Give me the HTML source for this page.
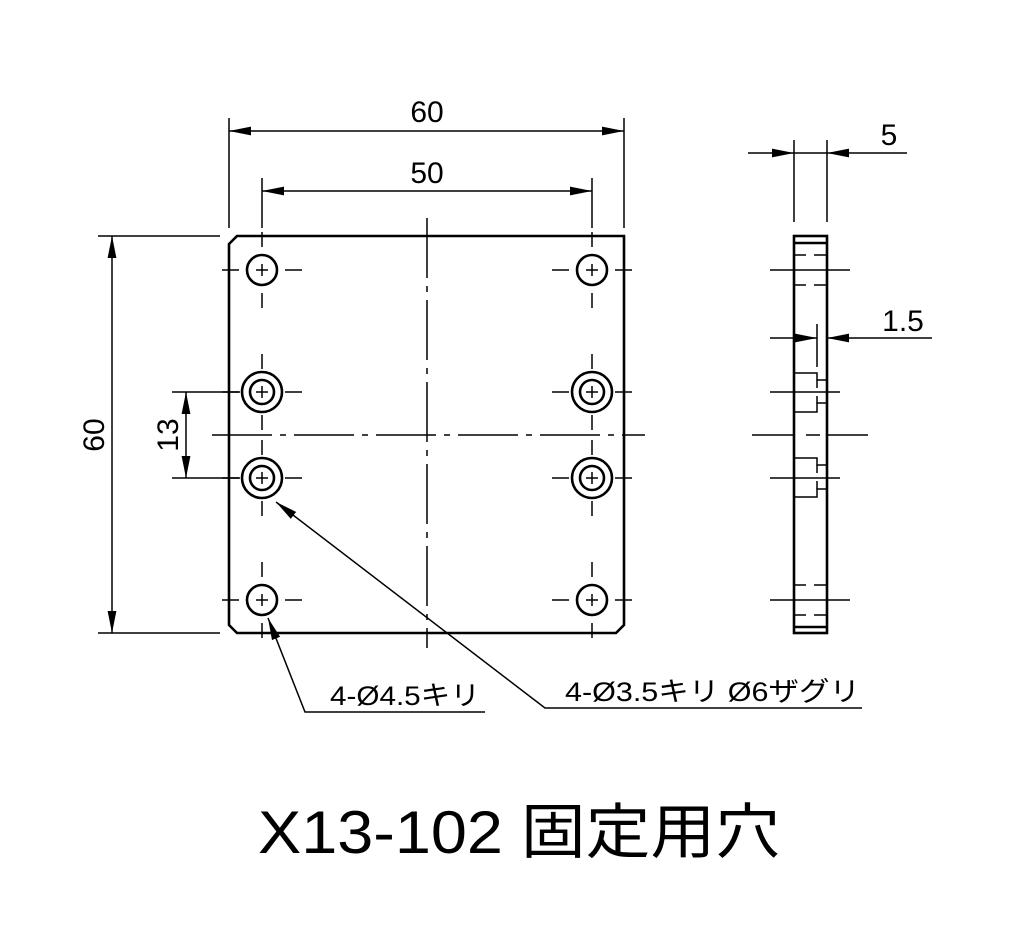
<!DOCTYPE html>
<html><head><meta charset="utf-8"><style>html,body{margin:0;background:#fff}svg{display:block}</style></head><body>
<svg width="1024" height="950" viewBox="0 0 1024 950" xmlns="http://www.w3.org/2000/svg">
<defs>
<marker id="a" viewBox="0 0 20 8" refX="20" refY="4" markerWidth="22" markerHeight="9" markerUnits="userSpaceOnUse" orient="auto"><path d="M0,0 L20,4 L0,8 Z" fill="#000"/></marker>
<marker id="b" viewBox="0 0 20 8" refX="0" refY="4" markerWidth="22" markerHeight="9" markerUnits="userSpaceOnUse" orient="auto"><path d="M20,0 L0,4 L20,8 Z" fill="#000"/></marker>
<g id="h1"><line x1="-40" y1="0" x2="-23" y2="0"/><line x1="23" y1="0" x2="40" y2="0"/><line x1="0" y1="-38" x2="0" y2="-23"/><line x1="0" y1="23" x2="0" y2="38"/><line x1="-6" y1="0" x2="6" y2="0"/><line x1="0" y1="-6" x2="0" y2="6"/></g>
</defs>
<g fill="none" stroke="#000" stroke-width="1.5">
<line x1="229" y1="118" x2="229" y2="228"/><line x1="624" y1="118" x2="624" y2="228"/>
<line x1="262" y1="178" x2="262" y2="228"/><line x1="592" y1="178" x2="592" y2="228"/>
<line x1="98" y1="236" x2="220" y2="236"/><line x1="98" y1="633" x2="220" y2="633"/>
<line x1="172" y1="392" x2="240" y2="392"/><line x1="172" y1="478" x2="240" y2="478"/>
<line x1="229" y1="131" x2="624" y2="131" marker-start="url(#b)" marker-end="url(#a)"/>
<line x1="262" y1="191" x2="592" y2="191" marker-start="url(#b)" marker-end="url(#a)"/>
<line x1="112" y1="236" x2="112" y2="633" marker-start="url(#b)" marker-end="url(#a)"/>
<line x1="186" y1="392" x2="186" y2="478" marker-start="url(#b)" marker-end="url(#a)"/>
<line x1="427" y1="218" x2="427" y2="648" stroke-dasharray="60,8,6,8"/>
<line x1="212" y1="435" x2="645" y2="435" stroke-dasharray="60,8,6,8"/>
<polyline points="268,618 305,712 485,712" marker-start="url(#b)"/>
<polyline points="276,502 545,708 862,708" marker-start="url(#b)"/>
<line x1="794" y1="140" x2="794" y2="222"/><line x1="827" y1="140" x2="827" y2="222"/>
<line x1="748" y1="153" x2="794" y2="153" marker-end="url(#a)"/>
<line x1="907" y1="153" x2="827" y2="153" marker-end="url(#a)"/>
<line x1="794" y1="153" x2="827" y2="153"/>
<line x1="770" y1="338" x2="817" y2="338" marker-end="url(#a)"/>
<line x1="932" y1="338" x2="827" y2="338" marker-end="url(#a)"/>
<line x1="817" y1="324" x2="817" y2="367"/>
<line x1="770" y1="270" x2="850" y2="270"/><line x1="770" y1="392" x2="840" y2="392"/>
<line x1="770" y1="478" x2="840" y2="478"/><line x1="770" y1="600" x2="850" y2="600"/>
<line x1="752" y1="435" x2="875" y2="435" stroke-dasharray="42,12,14,6,42"/>
<g stroke-dasharray="12,8"><line x1="794" y1="255" x2="827" y2="255"/><line x1="794" y1="285" x2="827" y2="285"/><line x1="794" y1="585" x2="827" y2="585"/><line x1="794" y1="615" x2="827" y2="615"/></g>
<polyline points="794,373 817,373 817,380 827,380"/><polyline points="794,412 817,412 817,403 827,403"/>
<line x1="817" y1="380" x2="817" y2="388"/><line x1="817" y1="396" x2="817" y2="403"/>
<polyline points="794,458 817,458 817,465 827,465"/><polyline points="794,497 817,497 817,489 827,489"/>
<line x1="817" y1="465" x2="817" y2="473"/><line x1="817" y1="481" x2="817" y2="489"/>
</g>
<g fill="none" stroke="#000" stroke-width="2.6">
<path d="M237,236 L624,236 L624,625 L616,633 L237,633 L229,625 L229,244 Z"/>
<rect x="794" y="236" width="33" height="397"/>
<line x1="794" y1="243" x2="827" y2="243"/><line x1="794" y1="627" x2="827" y2="627"/>
<circle cx="262" cy="270" r="15"/><circle cx="592" cy="270" r="15"/>
<circle cx="262" cy="600" r="15"/><circle cx="592" cy="600" r="15"/>
<circle cx="262" cy="392" r="20"/><circle cx="262" cy="392" r="12"/>
<circle cx="592" cy="392" r="20"/><circle cx="592" cy="392" r="12"/>
<circle cx="262" cy="478" r="20"/><circle cx="262" cy="478" r="12"/>
<circle cx="592" cy="478" r="20"/><circle cx="592" cy="478" r="12"/>
</g>
<g stroke="#000" stroke-width="1.5">
<use href="#h1" transform="translate(262,270)"/>
<use href="#h1" transform="translate(592,270)"/>
<use href="#h1" transform="translate(262,600)"/>
<use href="#h1" transform="translate(592,600)"/>
<use href="#h1" transform="translate(262,392)"/>
<use href="#h1" transform="translate(592,392)"/>
<use href="#h1" transform="translate(262,478)"/>
<use href="#h1" transform="translate(592,478)"/>
</g>
<g font-family="Liberation Sans, Noto Sans CJK JP, sans-serif" fill="#000" font-size="30">
<text x="427" y="122" text-anchor="middle">60</text>
<text x="427" y="183" text-anchor="middle">50</text>
<text transform="translate(104,435) rotate(-90)" text-anchor="middle">60</text>
<text transform="translate(178,435) rotate(-90)" text-anchor="middle">13</text>
<text x="889" y="145" text-anchor="middle">5</text>
<text x="903" y="331" text-anchor="middle">1.5</text>
<text x="330" y="705" font-size="27" textLength="150" lengthAdjust="spacingAndGlyphs">4-Ø4.5キリ</text>
<text x="565" y="701" font-size="27" textLength="295" lengthAdjust="spacingAndGlyphs">4-Ø3.5キリ Ø6ザグリ</text>
<text x="258" y="853" font-size="60" textLength="522" lengthAdjust="spacingAndGlyphs">X13-102 固定用穴</text>
</g>
</svg>
</body></html>
